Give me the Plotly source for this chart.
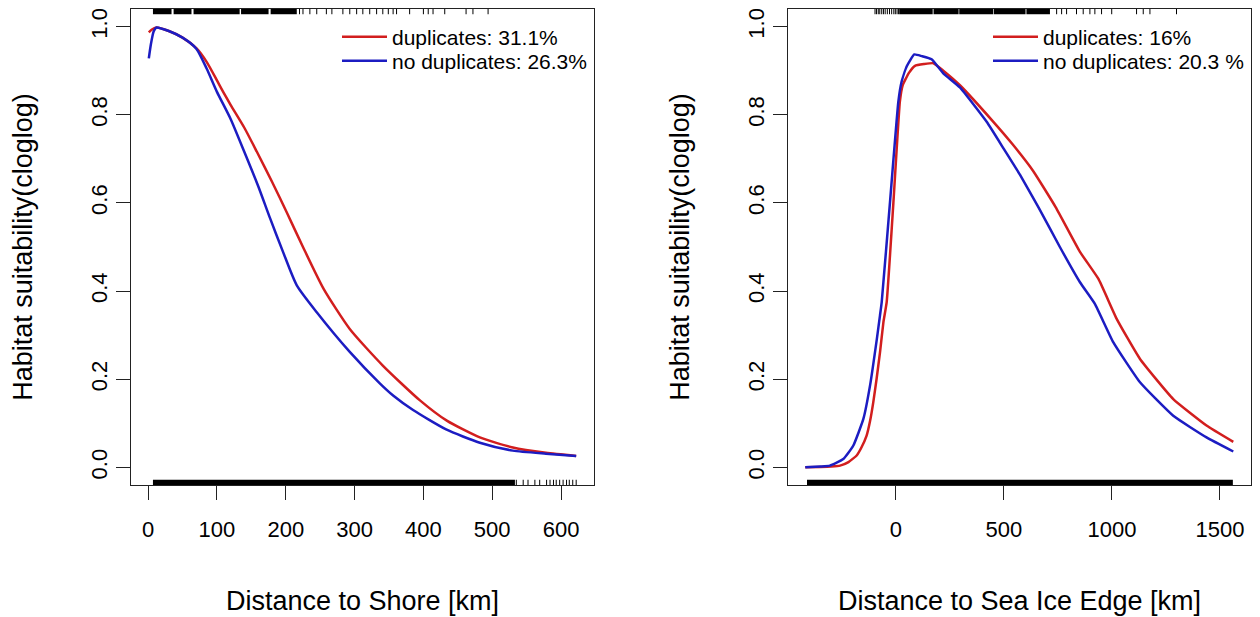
import plotly.graph_objects as go

# ---------------- data ----------------
# Left panel: Distance to Shore [km]
shore_dup_x = [1, 5, 12, 30, 50, 70, 85, 100, 109, 120, 140, 158, 180, 201, 225, 255, 293, 341, 395, 434, 482, 530, 578, 622]
shore_dup_y = [0.987, 0.993, 0.998, 0.990, 0.975, 0.951, 0.920, 0.878, 0.852, 0.822, 0.770, 0.716, 0.648, 0.580, 0.500, 0.405, 0.314, 0.231, 0.152, 0.106, 0.068, 0.045, 0.033, 0.026]
shore_nodup_x = [1, 4, 8, 12, 30, 50, 70, 85, 100, 120, 140, 160, 177, 196, 216, 245, 293, 337, 356, 385, 433, 482, 530, 578, 622]
shore_nodup_y = [0.928, 0.960, 0.989, 0.998, 0.990, 0.975, 0.950, 0.905, 0.852, 0.790, 0.715, 0.638, 0.566, 0.489, 0.413, 0.352, 0.262, 0.190, 0.163, 0.130, 0.086, 0.056, 0.038, 0.031, 0.026]

# Right panel: Distance to Sea Ice Edge [km]
ice_dup_x = [-420, -350, -300, -259, -220, -182, -160, -136, -120, -105, -90, -74, -58, -43, -12, 18, 31, 60, 88, 130, 173, 219, 296, 451, 540, 636, 740, 852, 937, 1022, 1130, 1284, 1438, 1562]
ice_dup_y = [0.0, 0.001, 0.002, 0.004, 0.012, 0.027, 0.045, 0.072, 0.105, 0.148, 0.200, 0.261, 0.330, 0.375, 0.600, 0.830, 0.867, 0.895, 0.911, 0.915, 0.917, 0.900, 0.867, 0.784, 0.733, 0.672, 0.590, 0.489, 0.428, 0.337, 0.246, 0.155, 0.095, 0.058]
ice_nodup_x = [-420, -350, -306, -244, -198, -151, -120, -89, -74, -66, -28, 11, 26, 50, 85, 120, 165, 219, 296, 420, 500, 574, 660, 759, 852, 921, 1006, 1130, 1284, 1438, 1562]
ice_nodup_y = [0.0, 0.002, 0.004, 0.019, 0.049, 0.110, 0.186, 0.290, 0.345, 0.375, 0.600, 0.830, 0.875, 0.910, 0.937, 0.933, 0.926, 0.894, 0.862, 0.784, 0.722, 0.664, 0.590, 0.500, 0.420, 0.371, 0.284, 0.193, 0.117, 0.068, 0.036]

# Rug data (presence on top, background on bottom): dense stretches as ranges, sparse as ticks
shore_top_ranges = [(7, 34), (37, 63), (66, 133), (135, 175), (178, 216)]
shore_top_ticks = [220, 225, 235, 245, 259, 267, 283, 293, 303, 312, 322, 332, 341, 349, 356, 361, 380, 400, 407, 414, 431, 462, 472, 494]
shore_bot_ranges = [(7, 533)]
shore_bot_ticks = [535, 545, 552, 562, 569, 579, 584, 589, 593, 598, 603, 608, 612, 617, 622]

ice_top_ranges = [(15, 170), (174, 290), (293, 450), (453, 600), (604, 713)]
ice_top_ticks = [-97, -90, -82, -75, -66, -58, -50, -40, -30, -20, -10, -3, 5, 12,
                 744, 767, 790, 836, 867, 898, 921, 952, 999, 1114, 1145, 1176, 1299]
ice_bot_ranges = [(-412, 1560)]
ice_bot_ticks = []

legend_left = ["duplicates: 31.1%", "no duplicates: 26.3%"]
legend_right = ["duplicates: 16%", "no duplicates: 20.3 %"]

y_ticks = [0.0, 0.2, 0.4, 0.6, 0.8, 1.0]
y_ticktext = ["0.0", "0.2", "0.4", "0.6", "0.8", "1.0"]
shore_ticks = [0, 100, 200, 300, 400, 500, 600]
ice_ticks = [0, 500, 1000, 1500]

RED = "#d21e1e"
BLUE = "#1c1cc2"
FONT = "Liberation Sans, Arial, sans-serif"

# page has an 8px body margin: figure is sized/positioned to compensate
OFF = 8
W, H = 1260 - OFF, 617 - OFF
def px(x):
    return (x - OFF) / W
def py(y):
    return 1 - (y - OFF) / H

fig = go.Figure()
fig.add_trace(go.Scatter(x=shore_dup_x, y=shore_dup_y, mode="lines", name=legend_left[0],
                         line=dict(color=RED, width=2.5, shape="spline", smoothing=0.6),
                         xaxis="x", yaxis="y", legend="legend"))
fig.add_trace(go.Scatter(x=shore_nodup_x, y=shore_nodup_y, mode="lines", name=legend_left[1],
                         line=dict(color=BLUE, width=2.5, shape="spline", smoothing=0.6),
                         xaxis="x", yaxis="y", legend="legend2"))
fig.add_trace(go.Scatter(x=ice_dup_x, y=ice_dup_y, mode="lines", name=legend_right[0],
                         line=dict(color=RED, width=2.5, shape="spline", smoothing=0.4),
                         xaxis="x2", yaxis="y2", legend="legend3"))
fig.add_trace(go.Scatter(x=ice_nodup_x, y=ice_nodup_y, mode="lines", name=legend_right[1],
                         line=dict(color=BLUE, width=2.5, shape="spline", smoothing=0.4),
                         xaxis="x2", yaxis="y2", legend="legend4"))

RUG_H = 0.011
shapes = []
def add_rug(xref, yref, ranges, ticks, top):
    y0, y1 = (1 - RUG_H, 1) if top else (0, RUG_H)
    for a, b in ranges:
        shapes.append(dict(type="rect", xref=xref, yref=yref + " domain", x0=a, x1=b, y0=y0, y1=y1,
                           fillcolor="black", line=dict(width=0), layer="above"))
    for t in ticks:
        shapes.append(dict(type="line", xref=xref, yref=yref + " domain", x0=t, x1=t, y0=y0, y1=y1,
                           line=dict(color="black", width=1), layer="above"))

add_rug("x", "y", shore_top_ranges, shore_top_ticks, True)
add_rug("x", "y", shore_bot_ranges, shore_bot_ticks, False)
add_rug("x2", "y2", ice_top_ranges, ice_top_ticks, True)
add_rug("x2", "y2", ice_bot_ranges, ice_bot_ticks, False)

ydom = [py(485), py(9)]
axis_common = dict(showline=True, linecolor="#222", linewidth=1, mirror=True, ticks="outside",
                   ticklen=14, tickcolor="#222", showgrid=False, zeroline=False,
                   tickfont=dict(family=FONT, size=22, color="black"), automargin=False)
title_font = dict(size=27, family=FONT, color="black")

def legend_at(xpix, ypix):
    return dict(x=px(xpix), y=py(ypix), xanchor="left", yanchor="middle", bgcolor="rgba(0,0,0,0)",
                font=dict(size=21, family=FONT, color="black"), itemwidth=45, borderwidth=0)

fig.update_layout(
    width=W, height=H,
    margin=dict(l=0, r=0, t=0, b=0),
    paper_bgcolor="white", plot_bgcolor="white",
    font=dict(family=FONT, color="black"),
    xaxis=dict(domain=[px(131), px(594)], range=[-24.9, 647.9], tickvals=shore_ticks,
               anchor="y", ticklabelstandoff=11,
               title=dict(text="Distance to Shore [km]", font=title_font, standoff=49),
               **axis_common),
    yaxis=dict(domain=ydom, range=[-0.04, 1.04], tickvals=y_ticks, ticktext=y_ticktext, tickangle=-90,
               anchor="x", ticklabelstandoff=0,
               title=dict(text="Habitat suitability(cloglog)", font=title_font, standoff=46),
               **axis_common),
    xaxis2=dict(domain=[px(788), px(1251)], range=[-500, 1644], tickvals=ice_ticks,
                anchor="y2", ticklabelstandoff=11,
                title=dict(text="Distance to Sea Ice Edge [km]", font=title_font, standoff=49),
                **axis_common),
    yaxis2=dict(domain=ydom, range=[-0.04, 1.04], tickvals=y_ticks, ticktext=y_ticktext, tickangle=-90,
                anchor="x2", ticklabelstandoff=0,
                title=dict(text="Habitat suitability(cloglog)", font=title_font, standoff=46),
                **axis_common),
    legend=legend_at(337, 37),
    legend2=legend_at(337, 61),
    legend3=legend_at(988, 37),
    legend4=legend_at(988, 61),
    shapes=shapes,
    showlegend=True,
)

fig.write_html("out.html")
